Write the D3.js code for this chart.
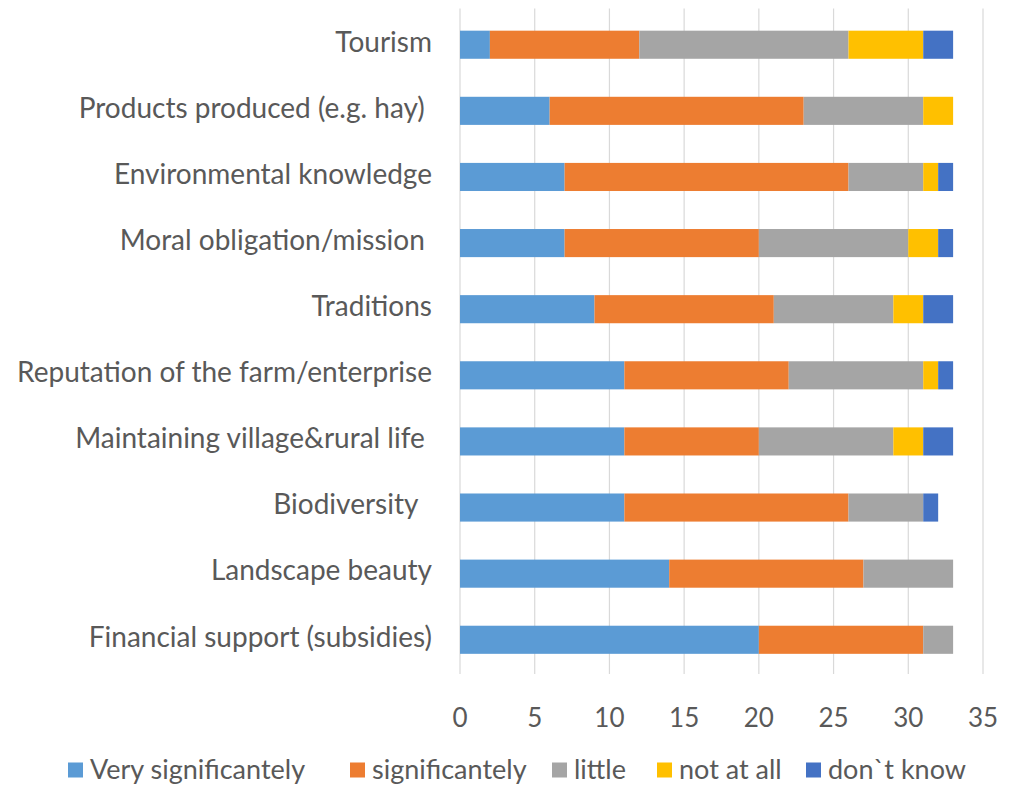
<html>
<head>
    <script src="https://cdn.jsdelivr.net/npm/d3@7"></script>
    <style>
        body { margin: 0; background: white; font-family: Lato, "Open Sans", sans-serif; }
        svg { display: block; }
    </style>
</head>
<body>
    <svg id="chart"></svg>
</body>
<script>
    // categories top to bottom (some labels carry a trailing space, as in the source)
    let categories = [
        "Tourism",
        "Products produced (e.g. hay)\u00a0",
        "Environmental knowledge",
        "Moral obligation/mission\u00a0",
        "Traditions",
        "Reputation of the farm/enterprise",
        "Maintaining village&rural life\u00a0",
        "Biodiversity\u00a0\u00a0",
        "Landscape beauty",
        "Financial support (subsidies)"
    ];
    let seriesNames = ["Very significantely", "significantely", "little", "not at all", "don`t know"];
    let seriesColors = ["#5b9bd5", "#ed7d31", "#a5a5a5", "#ffc000", "#4472c4"];

    let verySignificantly = [2, 6, 7, 7, 9, 11, 11, 11, 14, 20];
    let significantly     = [10, 17, 19, 13, 12, 11, 9, 15, 13, 11];
    let little            = [14, 8, 5, 10, 8, 9, 9, 5, 6, 2];
    let notAtAll          = [5, 2, 1, 2, 2, 1, 2, 0, 0, 0];
    let dontKnow          = [2, 0, 1, 1, 2, 1, 2, 1, 0, 0];
    let xTicks = [0, 5, 10, 15, 20, 25, 30, 35];

    let width = 1009, height = 786;
    let margin = {left: 460, right: 26, top: 11.5, bottom: 113};
    let textColor = "#595959";

    let svg = d3.select("#chart").attr("width", width).attr("height", height);

    let x = d3.scaleLinear().domain([0, 35]).range([margin.left, width - margin.right]);
    let y = d3.scaleBand().domain(categories)
        .range([margin.top, height - margin.bottom])
        .paddingInner(0.575).paddingOuter(0.29);

    // gridlines
    svg.append("g").selectAll("line").data(xTicks).enter().append("line")
        .attr("x1", d => x(d)).attr("x2", d => x(d))
        .attr("y1", margin.top - 3).attr("y2", height - margin.bottom + 1)
        .attr("stroke", "#d9d9d9").attr("stroke-width", 1.2);

    // stacked data
    let rows = categories.map((c, i) => ({
        cat: c,
        "Very significantely": verySignificantly[i],
        "significantely": significantly[i],
        "little": little[i],
        "not at all": notAtAll[i],
        "don`t know": dontKnow[i]
    }));
    let stack = d3.stack().keys(seriesNames)(rows);

    svg.append("g").selectAll("g").data(stack).enter().append("g")
        .attr("fill", (d, i) => seriesColors[i])
        .selectAll("rect").data(d => d).enter().append("rect")
        .attr("x", d => x(d[0]))
        .attr("width", d => x(d[1]) - x(d[0]))
        .attr("y", d => y(d.data.cat))
        .attr("height", y.bandwidth());

    // x tick labels
    svg.append("g").selectAll("text").data(xTicks).enter().append("text")
        .attr("x", d => x(d)).attr("y", 718)
        .attr("dy", "0.35em")
        .attr("text-anchor", "middle")
        .attr("fill", textColor)
        .style("font-size", "26px")
        .text(d => d);

    // category labels
    svg.append("g").selectAll("text").data(categories).enter().append("text")
        .attr("x", margin.left - 28)
        .attr("y", d => y(d) + y.bandwidth() / 2 - 3)
        .attr("dy", "0.35em")
        .attr("text-anchor", "end")
        .attr("fill", textColor)
        .style("font-size", "28px")
        .text(d => d);

    // legend
    let legendX = [68, 350, 552, 657, 806];
    let legend = svg.append("g").attr("class", "legend");
    seriesNames.forEach((name, i) => {
        let g = legend.append("g").attr("transform", "translate(" + legendX[i] + ",770)");
        g.append("rect").attr("x", 0).attr("y", -7.5).attr("width", 15).attr("height", 15)
            .attr("fill", seriesColors[i]);
        g.append("text").attr("x", 22).attr("dy", "0.35em")
            .attr("fill", textColor).style("font-size", "27px").text(name);
    });
</script>
</html>
